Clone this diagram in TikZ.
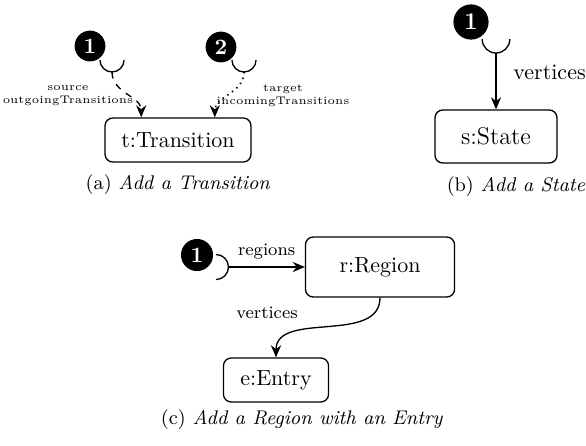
\documentclass[tikz,border=0pt]{standalone}
\usepackage{tikz}
\usetikzlibrary{arrows.meta,calc}

\begin{document}
\begin{tikzpicture}[
  x=0.455pt, y=-0.455pt,
  obj/.style={rectangle, rounded corners=3.5pt, draw, semithick, align=center, inner sep=0pt},
  ball/.style={circle, fill=black, text=white, font=\bfseries, minimum size=14pt, inner sep=0pt},
  link/.style={-{Stealth[length=5.5pt,width=4.6pt]}, semithick},
  socket/.style={semithick},
  role/.style={font=\tiny, align=center, inner sep=0pt},
  caption/.style={inner sep=0pt, font=\small}
]
  \useasboundingbox (0,0) rectangle (586,445);

  % (a) Add a Transition
  \node[ball] (a1) at (90,46) {1};
  \node[ball] (a2) at (221,47) {2};
  \node[obj, minimum width=66.4pt, minimum height=20pt] (t) at (178,140) {t:Transition};
  \coordinate (a1s) at (112,72);
  \coordinate (a2s) at (244,72);
  \draw[socket] (a1s) ++(-5.5pt,5.5pt) arc[start angle=180, end angle=360, radius=5.5pt];
  \draw[socket] (a2s) ++(-5.5pt,5.5pt) arc[start angle=180, end angle=360, radius=5.5pt];
  \draw[link, dashed] (a1s) to[out=-90, in=90] ($(t.north west)!0.25!(t.north east)$);
  \draw[link, dotted, thick] (a2s) to[out=-90, in=90] ($(t.north west)!0.75!(t.north east)$);
  \node[role] (src) at (68,96) {source\\outgoingTransitions};
  \node[role] (tgt) at (283,96) {target\\incomingTransitions};
  \node[caption] (capa) at (178,185) {(a) \textit{Add a Transition}};

  % (b) Add a State
  \node[ball, minimum size=16pt, font=\fontsize{11pt}{13pt}\bfseries] (b1) at (471,22) {1};
  \coordinate (b1s) at (496,53);
  \draw[socket] (b1s) ++(-6.3pt,6.3pt) arc[start angle=180, end angle=360, radius=6.3pt];
  \node[obj, minimum width=55.5pt, minimum height=24.1pt, font=\fontsize{11pt}{13pt}\selectfont] (s) at (496,136.5) {s:State};
  \draw[link] (b1s) -- (s);
  \node[anchor=west, inner sep=0pt] (bv) at (513,72) {vertices};
  \node[caption] (capb) at (516,187) {(b) \textit{Add a State}};

  % (c) Add a Region with an Entry
  \node[ball, minimum size=14.6pt] (c1) at (197,255) {1};
  \coordinate (c1s) at (228.5,267);
  \draw[socket] (c1s) ++(-5.7pt,5.7pt) arc[start angle=90, end angle=-90, radius=5.7pt];
  \node[obj, minimum width=67.8pt, minimum height=27.3pt] (r) at (380,267) {r:Region};
  \node[obj, minimum width=47.8pt, minimum height=20pt] (e) at (276,380) {e:Entry};
  \draw[link] (c1s) -- (r) node[midway, above, font=\footnotesize] {regions};
  \draw[link] (r) to[out=-90, in=90] (e);
  \node[font=\footnotesize] (vert) at (267,313) {vertices};
  \node[caption] (capc) at (302,420) {(c) \textit{Add a Region with an Entry}};
\end{tikzpicture}
\end{document}
